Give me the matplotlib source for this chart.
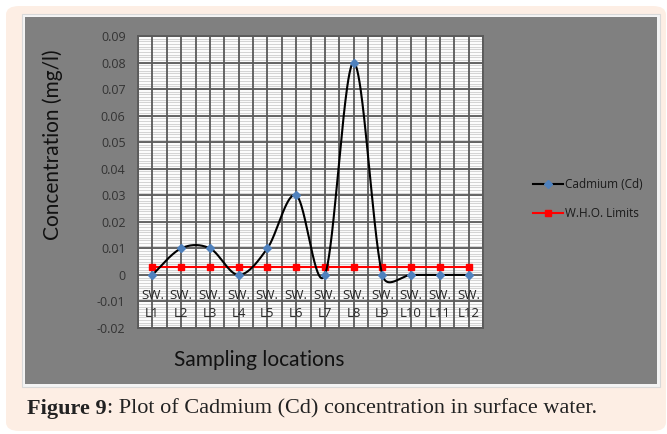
import numpy as np
import matplotlib
matplotlib.use("Agg")
import matplotlib.pyplot as plt
from matplotlib.patches import Rectangle, FancyBboxPatch
from matplotlib.lines import Line2D

locations_top = ["SW."] * 12
locations_bottom = ["L1", "L2", "L3", "L4", "L5", "L6", "L7", "L8", "L9", "L10", "L11", "L12"]
cadmium = [0.0, 0.01, 0.01, 0.0, 0.01, 0.03, 0.0, 0.08, 0.0, 0.0, 0.0, 0.0]
who_limit = [0.003] * 12
y_ticks = [-0.02, -0.01, 0, 0.01, 0.02, 0.03, 0.04, 0.05, 0.06, 0.07, 0.08, 0.09]
y_tick_labels = ["-0.02", "-0.01", "0", "0.01", "0.02", "0.03", "0.04", "0.05", "0.06", "0.07", "0.08", "0.09"]

W, H = 667, 434
fig = plt.figure(figsize=(W / 100, H / 100), dpi=100, facecolor="white")

def fx(px):
    return px / W

def fy(py):
    return 1 - py / H

# outer peach rounded box
fig.patches.append(FancyBboxPatch((fx(6), fy(431)), fx(660), (425) / H,
                                  boxstyle="round,pad=0,rounding_size=0.02",
                                  transform=fig.transFigure, facecolor="#fdeee4",
                                  edgecolor="none", zorder=-10))
# white border + gray panel
fig.patches.append(Rectangle((fx(22), fy(387)), fx(638), 373 / H, transform=fig.transFigure,
                             facecolor="#f4f4f4", edgecolor="#d9d9d9", lw=0.8, zorder=-9))
fig.patches.append(Rectangle((fx(25), fy(384)), fx(632), 367 / H, transform=fig.transFigure,
                             facecolor="#808080", edgecolor="none", zorder=-8))

AX_L, AX_T, AX_W, AX_H = 138, 36, 345, 292
ax = fig.add_axes([fx(AX_L), fy(AX_T + AX_H), fx(AX_W), AX_H / H])
ax.set_facecolor("white")

XMIN, XMAX, YMIN, YMAX = 0.5, 12.5, -0.02, 0.09
x = np.arange(1, 13)
sxp = AX_W / (XMAX - XMIN)
syp = AX_H / (YMAX - YMIN)

# Excel-like smoothed curve (Catmull-Rom Bezier with control length limited)
def smooth(xs, ys, n=50, cap=0.6):
    P = np.column_stack([np.asarray(xs, float) * sxp, np.asarray(ys, float) * syp])
    Q = np.vstack([P[0], P, P[-1]])
    outx, outy = [], []
    t = np.linspace(0, 1, n)[:, None]
    for i in range(1, len(Q) - 2):
        p0, p3 = Q[i], Q[i + 1]
        seg = np.linalg.norm(p3 - p0)
        v1 = (Q[i + 1] - Q[i - 1]) / 6
        v2 = (Q[i + 2] - Q[i]) / 6
        for v in (v1, v2):
            L = np.linalg.norm(v)
            if L > cap * seg and L > 0:
                v *= cap * seg / L
        c1 = p0 + v1
        c2 = p3 - v2
        b = (1 - t) ** 3 * p0 + 3 * (1 - t) ** 2 * t * c1 + 3 * (1 - t) * t ** 2 * c2 + t ** 3 * p3
        outx.extend(b[:, 0] / sxp)
        outy.extend(b[:, 1] / syp)
    return np.array(outx), np.array(outy)

sx, sy = smooth(x, cadmium)

ax.set_xlim(XMIN, XMAX)
ax.set_ylim(YMIN, YMAX)

# grid
for gx in np.arange(0.5, 12.51, 0.5):
    ax.axvline(gx, color="#5a5a5a", lw=1.3, zorder=1)
for gy in np.arange(-0.02, 0.0901, 0.001):
    ax.axhline(gy, color="#d4d4d4", lw=0.8, zorder=0.5)
for gy in y_ticks:
    ax.axhline(gy, color="#5a5a5a", lw=1.3, zorder=1)

ax.plot(x, who_limit, color="#ff0000", lw=1.5, marker="s", ms=5, mfc="#ff0000",
        mec="#ff0000", zorder=3)
ax.plot(sx, sy, color="black", lw=1.5, zorder=4)
ax.plot(x, cadmium, ls="none", marker="D", ms=4, mfc="#4f81bd", mec="#4f81bd", zorder=5)

for s in ax.spines.values():
    s.set_color("#5a5a5a")
    s.set_linewidth(1.3)

ax.set_xticks([])
ax.set_yticks(y_ticks)
ax.set_yticklabels(y_tick_labels, fontsize=9, color="#333333", family="Open Sans")
ax.tick_params(axis="y", length=0, pad=9)

for xi, t1, t2 in zip(x, locations_top, locations_bottom):
    ax.text(xi, 0.113, t1, transform=ax.get_xaxis_transform(), ha="center", va="center",
            fontsize=9.5, color="#262626", family="Open Sans", zorder=6)
    ax.text(xi, 0.051, t2, transform=ax.get_xaxis_transform(), ha="center", va="center",
            fontsize=9.5, color="#262626", family="Open Sans", zorder=6)

fig.text(fx(53), fy(145), "Concentration (mg/l)", rotation=90, ha="center", va="center",
         fontsize=15, color="#111111", family="Lato")
fig.text(fx(259), fy(360), "Sampling locations", ha="center", va="center",
         fontsize=15, color="#111111", family="Lato")

handles = [Line2D([], [], color="black", lw=1.5, marker="D", ms=4, mfc="#4f81bd", mec="#4f81bd"),
           Line2D([], [], color="#ff0000", lw=1.5, marker="s", ms=5, mfc="#ff0000", mec="#ff0000")]
fig.legend(handles, ["Cadmium (Cd)", "W.H.O. Limits"], loc="center left",
           bbox_to_anchor=(fx(522), fy(199)), frameon=False,
           labelcolor="#1a1a1a", handlelength=2.6, handletextpad=0.15, labelspacing=1.4,
           prop={"family": "Open Sans", "size": 8.5})

t1 = fig.text(fx(27), fy(409), "Figure 9", ha="left", va="center", fontsize=16,
              family="Liberation Serif", weight="bold", color="#222222")
fig.canvas.draw()
bb = t1.get_window_extent()
fig.text(bb.x1 / W, fy(409), ": Plot of Cadmium (Cd) concentration in surface water.",
         ha="left", va="center", fontsize=16, family="Liberation Serif", color="#222222")

fig.savefig("out.png", dpi=100, facecolor="white")
